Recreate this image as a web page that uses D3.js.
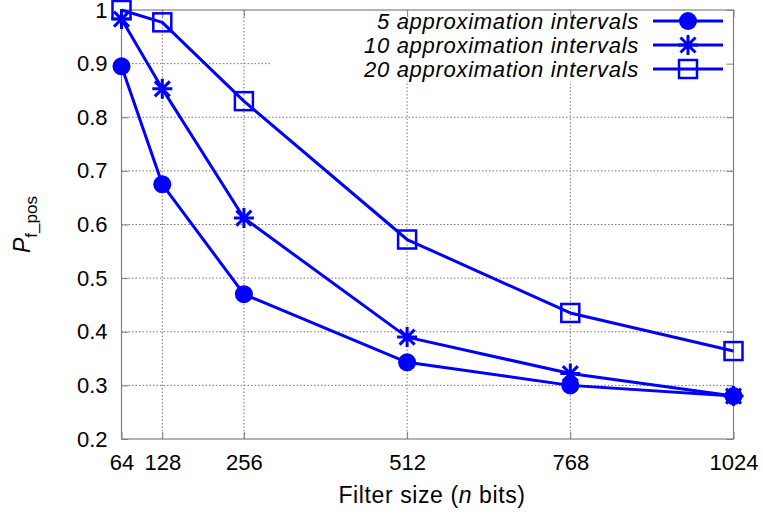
<!DOCTYPE html>
<html>
<head>
<meta charset="utf-8">
<script src="https://cdn.jsdelivr.net/npm/d3@7"></script>
<style>
  html, body { margin: 0; padding: 0; background: #fff; }
  svg { display: block; }
  text { font-family: "Liberation Sans", Arial, Helvetica, sans-serif; fill: #000; }
</style>
</head>
<body>
<svg id="chart" width="763" height="515"></svg>
<script>
// Filter sizes (bits) and false-positive probability per approximation setting
const filterSizes = [64, 128, 256, 512, 768, 1024];
const seriesNames = ["5 approximation intervals", "10 approximation intervals", "20 approximation intervals"];
const pf5  = [0.895, 0.675, 0.470, 0.343, 0.300, 0.280];
const pf10 = [0.983, 0.853, 0.612, 0.390, 0.322, 0.280];
const pf20 = [1.000, 0.977, 0.830, 0.572, 0.435, 0.364];
const xTicks = [64, 128, 256, 512, 768, 1024];
const yTicks = [0.2, 0.3, 0.4, 0.5, 0.6, 0.7, 0.8, 0.9, 1];

const series = [
  { name: seriesNames[0], values: pf5,  marker: "circle" },
  { name: seriesNames[1], values: pf10, marker: "star" },
  { name: seriesNames[2], values: pf20, marker: "square" }
];

const svg = d3.select("#chart");
const m = { left: 121.5, right: 733.5, top: 10, bottom: 439 };
const blue = "#0000ff";

const x = d3.scaleLinear().domain([64, 1024]).range([m.left, m.right]);
const y = d3.scaleLinear().domain([0.2, 1]).range([m.bottom, m.top]);

// Dotted grid
const grid = svg.append("g");
grid.selectAll("line.gx").data(xTicks.slice(1, -1)).enter().append("line")
  .attr("x1", d => x(d)).attr("x2", d => x(d))
  .attr("y1", m.top).attr("y2", m.bottom)
  .attr("stroke", "#777").attr("stroke-width", 1).attr("stroke-dasharray", "1.5,2");
grid.selectAll("line.gy").data(yTicks.slice(1, -1)).enter().append("line")
  .attr("x1", m.left).attr("x2", m.right)
  .attr("y1", d => y(d)).attr("y2", d => y(d))
  .attr("stroke", "#777").attr("stroke-width", 1).attr("stroke-dasharray", "1.5,2");

// Legend background hides the grid behind it
svg.append("rect").attr("x", 270).attr("y", m.top + 1).attr("width", m.right - 270 - 1).attr("height", 70)
  .attr("fill", "#fff");

// Axes with inward ticks on all four sides
const tickLen = 7;
const axisColor = "#808080";
const axB = d3.axisBottom(x).tickValues(xTicks).tickSize(-tickLen).tickPadding(15).tickFormat(d3.format("d"));
const axT = d3.axisTop(x).tickValues(xTicks).tickSize(-tickLen).tickFormat("");
const axL = d3.axisLeft(y).tickValues(yTicks).tickSize(-tickLen).tickPadding(14).tickFormat(d => d === 1 ? "1" : d3.format(".1f")(d));
const axR = d3.axisRight(y).tickValues(yTicks).tickSize(-tickLen).tickFormat("");

function styleAxis(g) {
  g.select(".domain").remove();
  g.selectAll(".tick line").attr("stroke", axisColor);
  g.selectAll(".tick text").style("font-size", "22px").attr("fill", "#000");
}
svg.append("g").attr("transform", `translate(0,${m.bottom})`).call(axB).call(styleAxis);
svg.append("g").attr("transform", `translate(0,${m.top})`).call(axT).call(styleAxis);
svg.append("g").attr("transform", `translate(${m.left},0)`).call(axL).call(styleAxis);
svg.append("g").attr("transform", `translate(${m.right},0)`).call(axR).call(styleAxis);

svg.append("rect").attr("x", m.left).attr("y", m.top)
  .attr("width", m.right - m.left).attr("height", m.bottom - m.top)
  .attr("fill", "none").attr("stroke", axisColor).attr("stroke-width", 1.2);

// Axis titles
const xt = svg.append("text").attr("x", 432).attr("y", 503)
  .attr("text-anchor", "middle").style("font-size", "23px").style("letter-spacing", "0.6px");
xt.append("tspan").text("Filter size (");
xt.append("tspan").style("font-style", "italic").text("n");
xt.append("tspan").text(" bits)");

const yt = svg.append("text").attr("transform", "translate(30,253) rotate(-90)")
  .attr("text-anchor", "start").style("font-size", "23px");
yt.append("tspan").style("font-style", "italic").text("P");
yt.append("tspan").attr("dy", 7).style("font-size", "17px").text("f_pos");

// Marker drawing
function drawMarker(g, type, cx, cy) {
  if (type === "circle") {
    g.append("circle").attr("cx", cx).attr("cy", cy).attr("r", 9).attr("fill", blue);
  } else if (type === "star") {
    const s = 10, d = 7.5;
    g.append("path")
      .attr("d", `M${cx - s},${cy}H${cx + s}M${cx},${cy - s}V${cy + s}` +
                 `M${cx - d},${cy - d}L${cx + d},${cy + d}M${cx - d},${cy + d}L${cx + d},${cy - d}`)
      .attr("stroke", blue).attr("stroke-width", 3).attr("fill", "none");
  } else {
    g.append("rect").attr("x", cx - 9).attr("y", cy - 9).attr("width", 18).attr("height", 18)
      .attr("fill", "none").attr("stroke", blue).attr("stroke-width", 2.5);
  }
}

const line = d3.line().x((d, i) => x(filterSizes[i])).y(d => y(d));
series.forEach(s => {
  const g = svg.append("g");
  g.append("path").datum(s.values).attr("d", line)
    .attr("fill", "none").attr("stroke", blue).attr("stroke-width", 3).attr("stroke-linejoin", "round");
  s.values.forEach((v, i) => drawMarker(g, s.marker, x(filterSizes[i]), y(v)));
});

// Legend
series.forEach((s, i) => {
  const ly = 21 + i * 24;
  const g = svg.append("g");
  g.append("text").attr("x", 639).attr("y", ly + 8)
    .attr("text-anchor", "end").style("font-size", "22px").style("font-style", "italic")
    .style("letter-spacing", "0.7px")
    .text(s.name);
  g.append("line").attr("x1", 653).attr("x2", 723).attr("y1", ly).attr("y2", ly)
    .attr("stroke", blue).attr("stroke-width", 3);
  drawMarker(g, s.marker, 688, ly);
});
</script>
</body>
</html>
